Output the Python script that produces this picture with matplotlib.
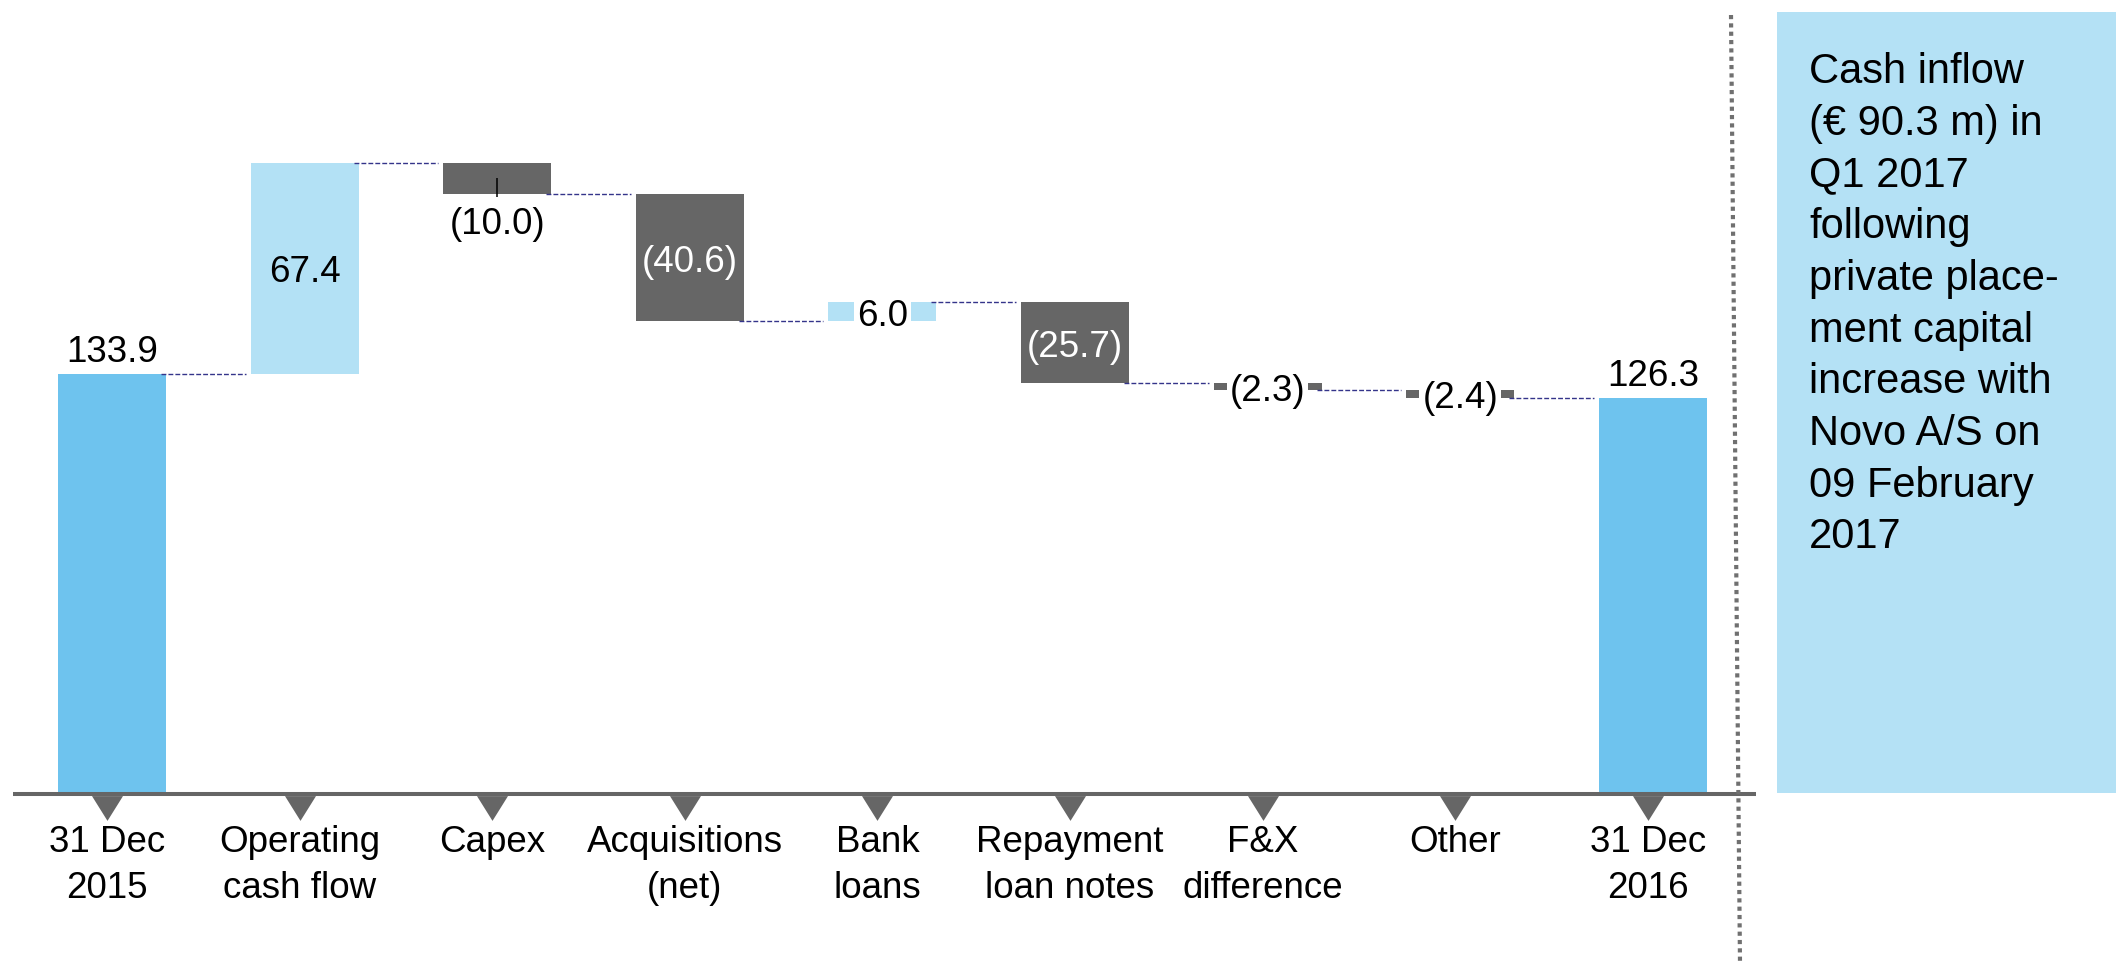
import matplotlib
matplotlib.use("Agg")
import matplotlib.pyplot as plt
from matplotlib.lines import Line2D
from matplotlib.patches import Rectangle

# ---- data -------------------------------------------------------------
categories = ["31 Dec\n2015", "Operating\ncash flow", "Capex", "Acquisitions\n(net)",
              "Bank\nloans", "Repayment\nloan notes", "F&X\ndifference", "Other",
              "31 Dec\n2016"]
opening_cash = 133.9
changes = [67.4, -10.0, -40.6, 6.0, -25.7, -2.3, -2.4]
closing_cash = 126.3
value_labels = ["133.9", "67.4", "(10.0)", "(40.6)", "6.0", "(25.7)", "(2.3)",
                "(2.4)", "126.3"]
note_lines = ["Cash inflow", "(€ 90.3 m) in", "Q1 2017", "following",
              "private place-", "ment capital", "increase with", "Novo A/S on",
              "09 February", "2017"]

# ---- style ------------------------------------------------------------
plt.rcParams["font.family"] = ["Liberation Sans", "DejaVu Sans"]
C_TOTAL = "#6EC3EE"
C_UP = "#B3E1F5"
C_DOWN = "#666666"
C_AXIS = "#666666"
C_LINK = "#34348A"
C_PANEL = "#B4E1F5"
FS = 26.5

W, H, DPI = 2116, 963, 100
X0_PX, STEP_PX = 107.0, 192.6      # first category centre, category pitch
BASE_PX, UNIT_PX = 794.0, 3.137    # zero line row, pixels per EUR m
BAR_W = 0.56
BAR_SHIFT = 0.026

fig = plt.figure(figsize=(W / DPI, H / DPI), dpi=DPI)
ax = fig.add_axes([0, 0, 1, 1])
ax.set_xlim(-X0_PX / STEP_PX, (W - X0_PX) / STEP_PX)
ax.set_ylim(-(H - BASE_PX) / UNIT_PX, BASE_PX / UNIT_PX)
ax.axis("off")


def row(px):
    """Pixel row (from top) to data y."""
    return (BASE_PX - px) / UNIT_PX


# ---- waterfall geometry ------------------------------------------------
n = len(categories)
bottoms, heights, colors, levels = [0.0], [opening_cash], [C_TOTAL], [opening_cash]
running = opening_cash
for c in changes:
    if c >= 0:
        bottoms.append(running)
        heights.append(c)
        colors.append(C_UP)
    else:
        bottoms.append(running + c)
        heights.append(-c)
        colors.append(C_DOWN)
    running += c
    levels.append(running)
bottoms.append(0.0)
heights.append(closing_cash)
colors.append(C_TOTAL)

xs = list(range(n))
ax.bar([x + BAR_SHIFT for x in xs], heights, BAR_W, bottom=bottoms,
       color=colors, linewidth=0, zorder=2)

# dashed connectors between consecutive bars
for i in range(n - 1):
    ax.hlines(levels[i], i + BAR_W / 2, i + 1 - BAR_W / 2, colors=C_LINK,
              linewidth=1.0, linestyles=(0, (3.5, 1.5)), zorder=3)

# value labels
for i, (lab, b, h) in enumerate(zip(value_labels, bottoms, heights)):
    x = i + BAR_SHIFT
    top, mid = b + h, b + h / 2
    is_total = i in (0, n - 1)
    if is_total:
        ax.annotate(lab, (x, top), xytext=(0, 12), textcoords="offset pixels",
                    ha="center", va="baseline", fontsize=FS, color="black", zorder=5)
    elif h >= 20:
        txt_col = "black" if colors[i] == C_UP else "white"
        ax.annotate(lab, (x, mid), xytext=(0, -14), textcoords="offset pixels",
                    ha="center", va="baseline", fontsize=FS, color=txt_col, zorder=5)
    elif h >= 8:
        ax.vlines(x, b - 1.0, mid, colors="black", linewidth=1.1, zorder=4)
        ax.annotate(lab, (x, b), xytext=(0, -40), textcoords="offset pixels",
                    ha="center", va="baseline", fontsize=FS, color="black", zorder=5)
    else:
        ax.annotate(lab, (x, mid), xytext=(0, -14), textcoords="offset pixels",
                    ha="center", va="baseline", fontsize=FS, color="black", zorder=5,
                    bbox=dict(boxstyle="square,pad=0.08", fc="white", ec="none"))

# category axis: baseline, downward markers and labels
ax.hlines(0, -0.49, n - 1 + 0.56, colors=C_AXIS, linewidth=2.9, zorder=4)
tri = [(-1.25, 1), (1.25, 1), (0, -1)]
ax.plot(xs, [row(808)] * n, ls="none", marker=tri, ms=22.3, color=C_AXIS,
        mew=0, zorder=4, clip_on=False)
for i, lab in enumerate(categories):
    for k, line in enumerate(lab.split("\n")):
        ax.text(i, row(852 + 46 * k), line, ha="center", va="baseline",
                fontsize=FS, color="black")

# ---- side note ----------------------------------------------------------
fig.add_artist(Rectangle((1777 / W, 1 - 793 / H), (W - 1777) / W, (793 - 12) / H,
                         transform=fig.transFigure, facecolor=C_PANEL,
                         edgecolor="none", zorder=0))
fig.add_artist(Line2D([1731 / W, 1740 / W], [1 - 15 / H, 0], transform=fig.transFigure,
                      color="#707070", linewidth=3, linestyle=(0, (1, 1)), zorder=1))
for k, line in enumerate(note_lines):
    fig.text(1809 / W, 1 - (83 + 51.7 * k) / H, line, ha="left", va="baseline",
             fontsize=30, color="black", zorder=2)

fig.savefig("out.png", dpi=DPI)
